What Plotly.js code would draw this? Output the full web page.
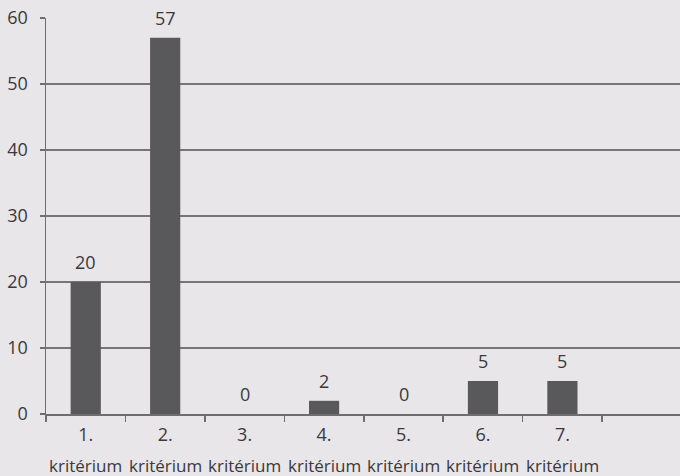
<!DOCTYPE html>
<html>
<head>
<meta charset="utf-8">
<script src="https://cdn.plot.ly/plotly-3.0.1.min.js"></script>
<style>html,body{margin:0;padding:0;background:#e8e6e9;}</style>
</head>
<body>
<div id="chart" style="width:680px;height:476px;"></div>
<script>
const categoryNumbers = ["1.", "2.", "3.", "4.", "5.", "6.", "7.", " "];
const categoryWord = "kritérium";
const values = [20, 57, 0, 2, 0, 5, 5, null];
const valueLabels = ["20", "57", "0", "2", "0", "5", "5", ""];
const yTicks = [0, 10, 20, 30, 40, 50, 60];

const textColor = "#3a393c";
const fontFam = "Open Sans, sans-serif";

const trace = {
  type: "bar",
  x: categoryNumbers,
  y: values,
  marker: {color: "#59585b"},
  width: 0.38,
  hoverinfo: "skip"
};

const annotations = [];
categoryNumbers.forEach((c, i) => {
  if (values[i] === null) return;
  annotations.push({
    x: i, y: values[i], xref: "x", yref: "y",
    text: valueLabels[i], showarrow: false,
    yanchor: "middle", yshift: 20,
    font: {family: fontFam, size: 18, color: textColor}
  });
  annotations.push({
    x: i, y: 0, xref: "x", yref: "paper",
    text: categoryWord, showarrow: false,
    yanchor: "middle", yshift: -51,
    font: {family: fontFam, size: 17, color: textColor}
  });
});

const layout = {
  width: 680, height: 476,
  margin: {l: 46, r: 0, t: 18, b: 62},
  paper_bgcolor: "#e8e6e9",
  plot_bgcolor: "#e8e6e9",
  showlegend: false,
  font: {family: fontFam, size: 18, color: textColor},
  annotations: annotations,
  xaxis: {
    type: "category",
    range: [-0.5, 7.48],
    tickson: "boundaries",
    ticks: "outside",
    ticklen: 6,
    tickwidth: 1.5,
    tickcolor: "#6f6d70",
    ticklabelstandoff: 4,
    showline: true,
    linecolor: "#6f6d70",
    linewidth: 1.5,
    showgrid: false,
    tickangle: 0,
    tickfont: {family: fontFam, size: 18, color: textColor},
    fixedrange: true
  },
  yaxis: {
    range: [0, 60],
    tickmode: "array",
    tickvals: yTicks,
    ticktext: yTicks.map(String),
    ticks: "outside",
    ticklen: 5,
    tickwidth: 1.5,
    tickcolor: "#6f6d70",
    ticklabelstandoff: 8,
    showline: true,
    linecolor: "#6f6d70",
    linewidth: 1.5,
    showgrid: true,
    gridcolor: "#777578",
    gridwidth: 1.5,
    zeroline: false,
    tickfont: {family: fontFam, size: 18, color: textColor},
    fixedrange: true
  }
};

Plotly.newPlot("chart", [trace], layout, {displayModeBar: false, staticPlot: true});
</script>
</body>
</html>
